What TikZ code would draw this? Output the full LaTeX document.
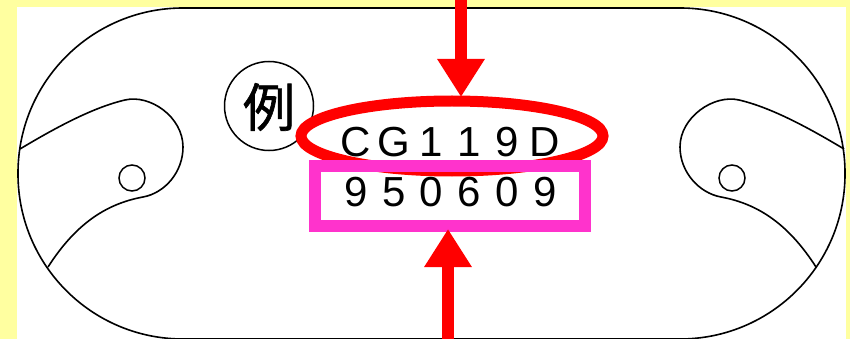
\documentclass[tikz,border=0pt]{standalone}
\usepackage{fontspec}
\usepackage{xcolor}
\usepackage{tikz}
\usetikzlibrary{arrows.meta,shapes.geometric}
\setmainfont{Liberation Sans}
\newfontfamily\jpfont[FakeBold=1.2]{Noto Sans CJK JP}
\definecolor{paper}{HTML}{FFFFA0}
\definecolor{pinkbox}{HTML}{FF33CC}
\newcommand{\cellch}[1]{\makebox[37.8pt]{#1}}

\begin{document}
\begin{tikzpicture}
  [x=1pt,y=-1pt,
   outline/.style={draw=black,line width=1.6pt},
   hole/.style={circle,draw=black,line width=1.5pt,minimum size=26pt,inner sep=0pt,outer sep=0pt},
   digits/.style={inner sep=0pt,font=\fontsize{42}{42}\selectfont},
   pointer/.style={red,line width=12pt,-{Triangle[length=38pt,width=45pt]}},
  ]
  \useasboundingbox (0,0) rectangle (850,339);
  \fill[paper] (0,0) rectangle (850,339);
  \fill[white] (17,7) rectangle (846,339);

  \draw[outline,rounded corners=165pt] (18,8) rectangle (845,339);

  \draw[outline] (20,149) .. controls (60,125) and (95,107) .. (125,100)
    .. controls (150,94) and (183,117) .. (183,147)
    .. controls (183,172) and (165,193) .. (143,197)
    .. controls (105,204) and (75,225) .. (48,267);
  \draw[outline] (844,149) .. controls (804,125) and (769,107) .. (739,100)
    .. controls (714,94) and (680,117) .. (680,147)
    .. controls (680,172) and (699,193) .. (721,197)
    .. controls (759,204) and (789,225) .. (816,267);

  \node[hole] (holeL) at (132,178) {};
  \node[hole] (holeR) at (732,178) {};

  \node[circle,draw=black,line width=1.5pt,minimum size=89pt,inner sep=0pt] (rei) at (269,106) {};
  \node[inner sep=0pt,font=\jpfont\fontsize{52}{52}\selectfont] (reitext) at (269,107) {例};

  \node[ellipse,draw=red,line width=11pt,minimum width=302pt,minimum height=70pt,inner sep=0pt,outer sep=0pt] (oval) at (452,136) {};
  \node[rectangle,draw=pinkbox,line width=12pt,minimum width=270pt,minimum height=60pt,inner sep=0pt,outer sep=0pt] (box) at (450,196) {};

  \node[digits] (code) at (450.5,142) {\cellch{C}\cellch{G}\cellch{1}\cellch{1}\cellch{9}\cellch{D}};
  \node[digits] (date) at (450.5,192) {\cellch{9}\cellch{5}\cellch{0}\cellch{6}\cellch{0}\cellch{9}};

  \coordinate (topend) at (461,0);
  \coordinate (botend) at (448,339);
  \draw[pointer,shorten >=4pt] (topend) -- (topend |- oval.north);
  \draw[pointer,shorten >=3pt] (botend) -- (botend |- box.south);
\end{tikzpicture}
\end{document}
